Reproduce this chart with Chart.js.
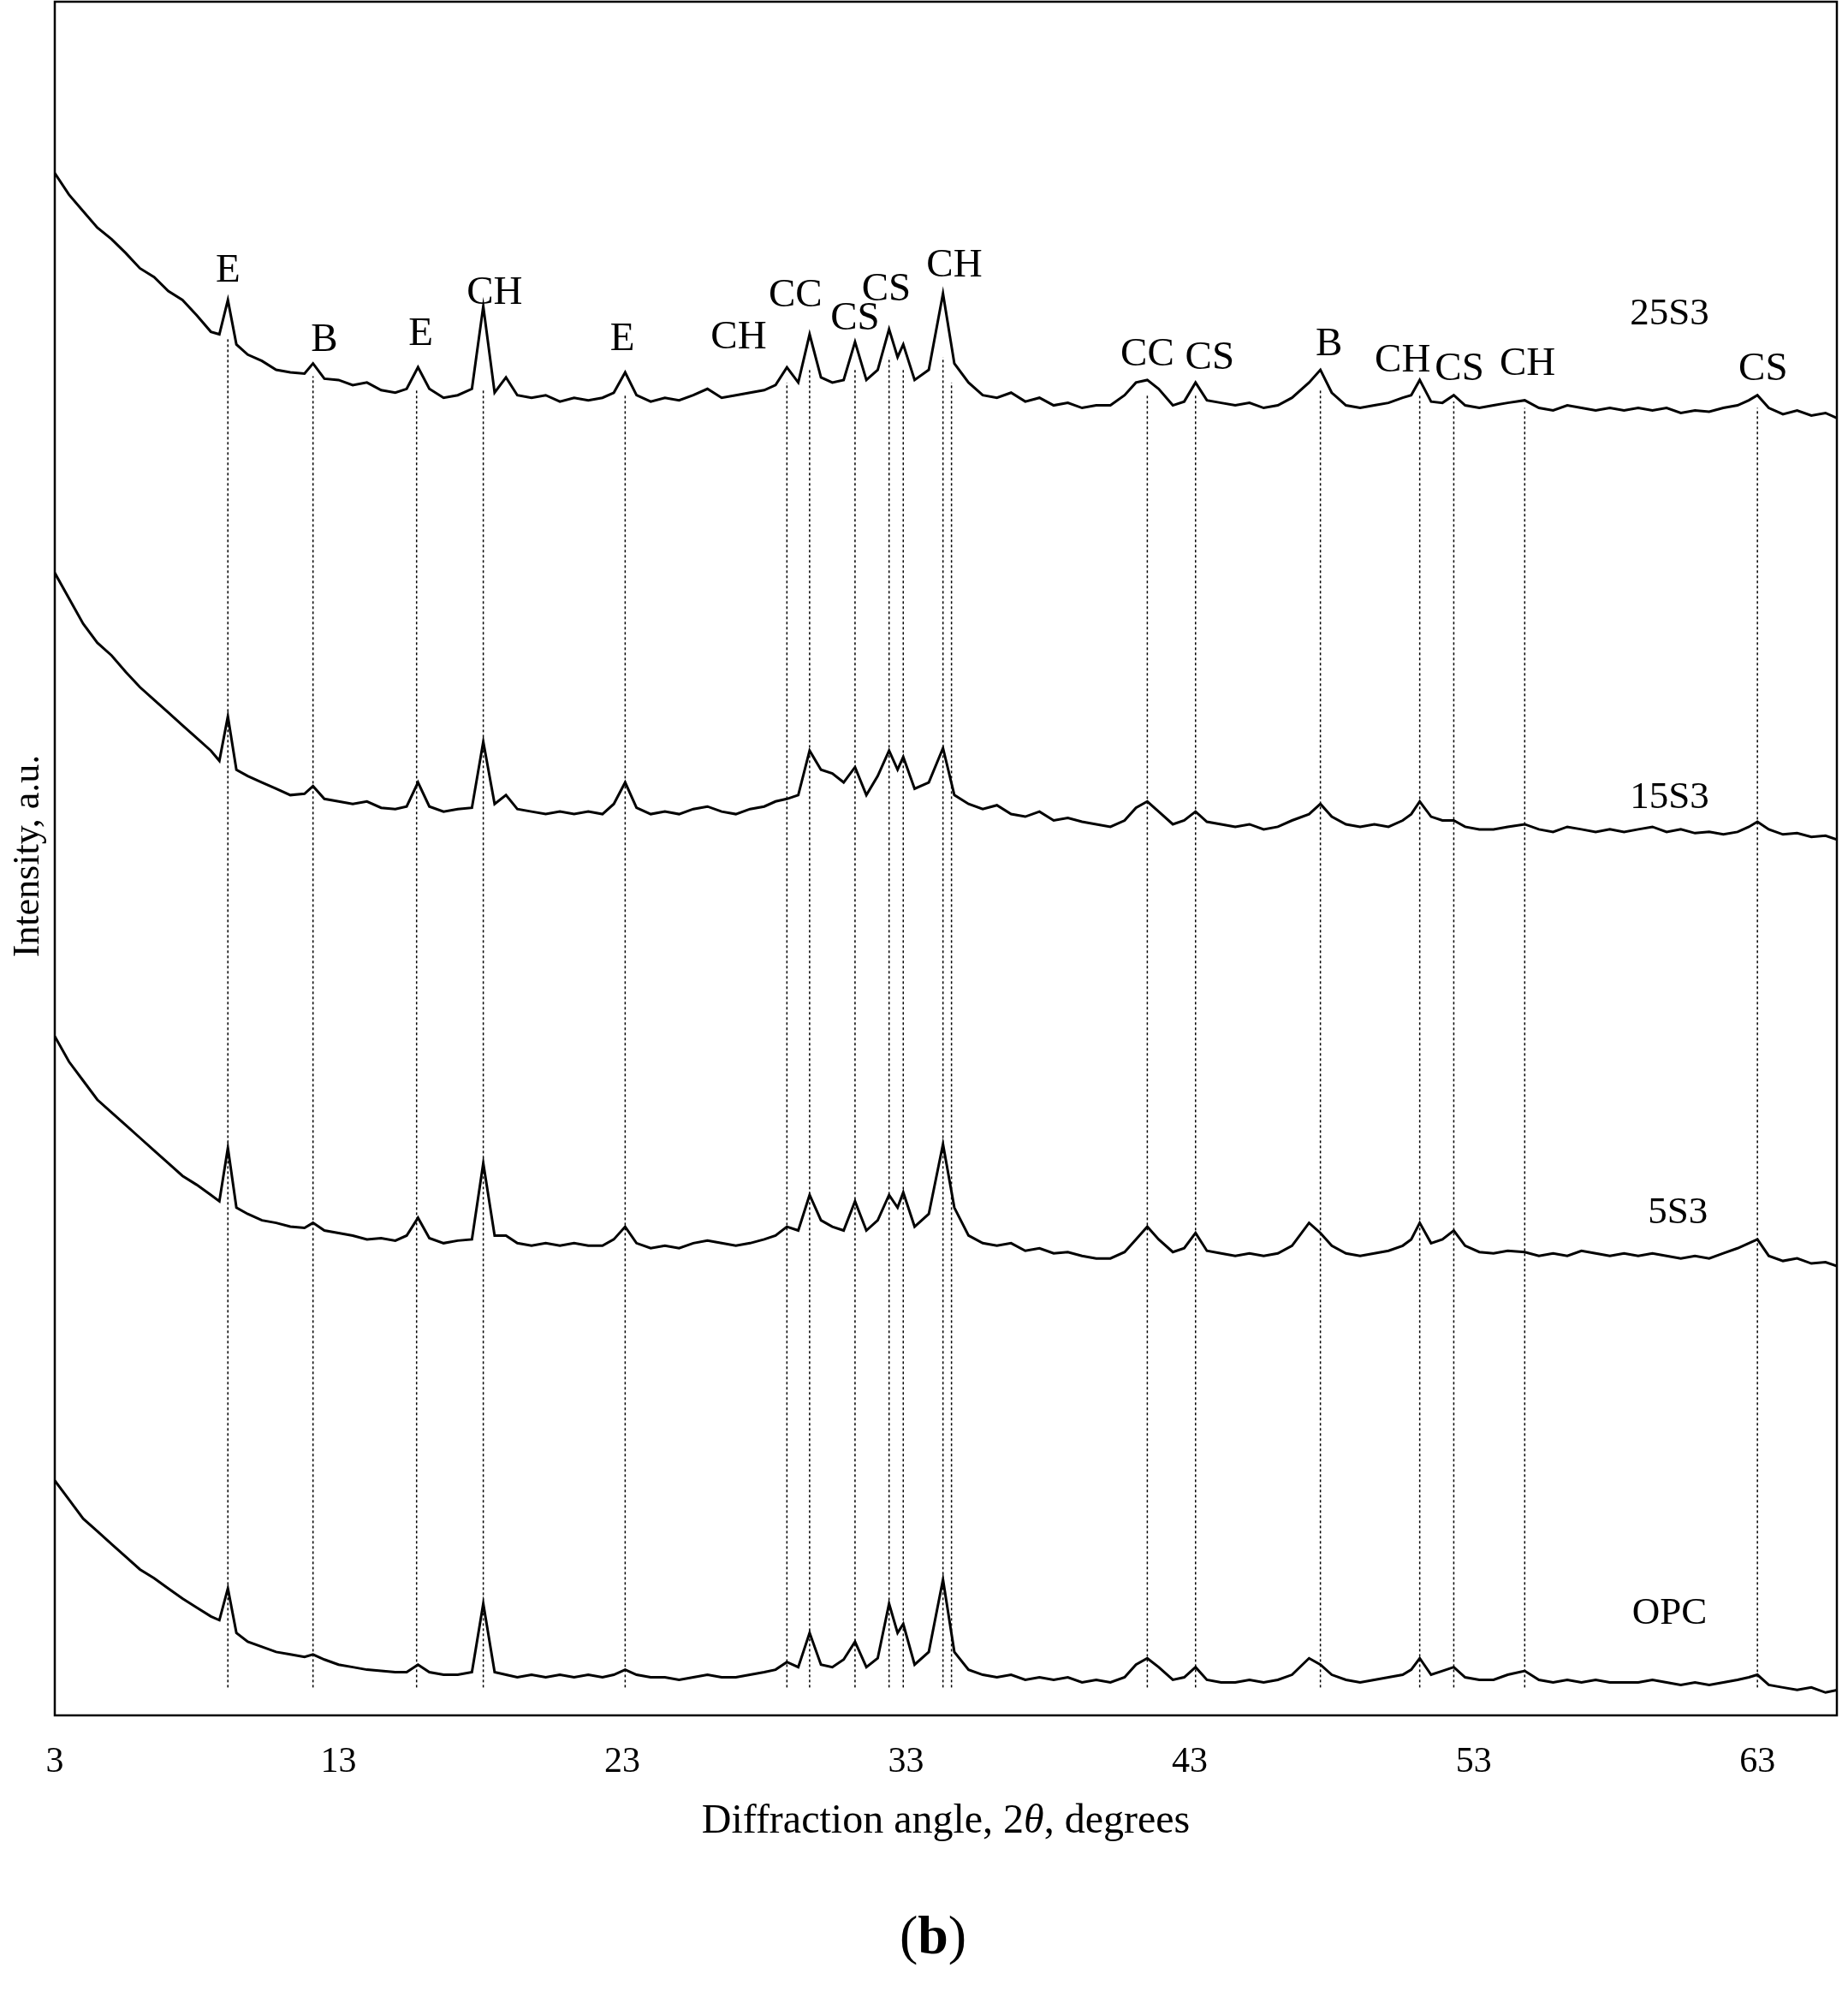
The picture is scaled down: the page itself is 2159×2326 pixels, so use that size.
<!DOCTYPE html>
<html><head><meta charset="utf-8">
<script src="https://cdn.jsdelivr.net/npm/chart.js@4"></script>
<style>html,body{margin:0;padding:0;background:#fff}#w{width:2159px;height:2326px}</style>
</head><body><div id="w"><canvas id="c" width="2159" height="2326"></canvas></div>
<script>
const angles=[3,3.5,4,4.5,5,5.5,6,6.5,7,7.5,8,8.5,
8.8,9.1,9.4,9.8,10.3,10.8,11.3,11.8,12.1,12.5,
13,13.5,14,14.5,15,15.4,15.8,16.2,16.7,17.2,
17.7,18.1,18.5,18.9,19.3,19.8,20.3,20.8,21.3,21.8,
22.3,22.7,23.1,23.5,24,24.5,25,25.5,26,26.5,
27,27.5,28,28.4,28.8,29.2,29.6,30,30.4,30.8,
31.2,31.6,32,32.4,32.7,32.9,33.3,33.8,34.3,34.7,
35.2,35.7,36.2,36.7,37.2,37.7,38.2,38.7,39.2,39.7,
40.2,40.7,41.1,41.5,41.9,42.4,42.8,43.2,43.6,44.1,
44.6,45.1,45.6,46.1,46.6,47.2,47.6,48,48.5,49,
49.5,50,50.5,50.8,51.1,51.5,51.9,52.3,52.7,53.2,
53.7,54.2,54.8,55.3,55.8,56.3,56.8,57.3,57.8,58.3,
58.8,59.3,59.8,60.3,60.8,61.3,61.8,62.3,62.7,63,
63.4,63.9,64.4,64.9,65.4,65.8];
const s25S3=[1215,1198,1185,1172,1163,1152,1140,1133,1122,1115,1103,1090,
1088,1115,1080,1072,1067,1060,1058,1057,1065,1053,
1052,1048,1050,1044,1042,1045,1062,1045,1038,1040,
1045,1110,1042,1054,1040,1038,1040,1035,1038,1036,
1038,1042,1058,1040,1035,1038,1036,1040,1045,1038,
1040,1042,1044,1048,1062,1050,1088,1054,1050,1052,
1082,1052,1060,1092,1070,1080,1052,1060,1120,1065,
1050,1040,1038,1042,1035,1038,1032,1034,1030,1032,
1032,1040,1050,1052,1045,1032,1035,1050,1036,1034,
1032,1034,1030,1032,1038,1050,1060,1042,1032,1030,
1032,1034,1038,1040,1052,1035,1034,1040,1032,1030,
1032,1034,1036,1030,1028,1032,1030,1028,1030,1028,
1030,1028,1030,1026,1028,1027,1030,1032,1036,1040,
1030,1025,1028,1024,1026,1022];
const s15S3=[900,880,860,845,835,822,810,800,790,780,770,760,
752,787,745,740,735,730,725,726,732,722,
720,718,720,715,714,716,735,716,712,714,
715,767,718,725,714,712,710,712,710,712,
710,718,735,715,710,712,710,714,716,712,
710,714,716,720,722,725,760,745,742,735,
747,725,740,760,745,755,730,735,762,725,
718,714,717,710,708,712,705,707,704,702,
700,705,715,720,712,702,705,712,704,702,
700,702,698,700,705,710,718,708,702,700,
702,700,705,710,720,708,705,705,700,698,
698,700,702,698,696,700,698,696,698,696,
698,700,696,698,695,696,694,696,700,704,
698,694,695,692,693,690];
const s5S3=[535,515,500,485,475,465,455,445,435,425,418,410,
405,447,400,395,390,388,385,384,388,382,
380,378,375,376,374,378,392,376,372,374,
375,435,378,378,372,370,372,370,372,370,
370,375,385,372,368,370,368,372,374,372,
370,372,375,378,385,382,410,390,385,382,
405,382,390,410,400,412,385,395,450,400,
378,372,370,372,366,368,364,365,362,360,
360,365,375,385,375,365,368,380,366,364,
362,364,362,364,370,388,380,370,364,362,
364,366,370,375,388,372,375,382,370,365,
364,366,365,362,364,362,366,364,362,364,
362,364,362,360,362,360,364,368,372,375,
362,358,360,356,357,354];
const sOPC=[185,170,155,145,135,125,115,108,100,92,85,78,
75,100,65,58,54,50,48,46,48,44,
40,38,36,35,34,34,40,34,32,32,
34,88,34,32,30,32,30,32,30,32,
30,32,36,32,30,30,28,30,32,30,
30,32,34,36,42,38,65,40,38,44,
58,38,45,88,65,72,40,50,107,50,
36,32,30,32,28,30,28,30,26,28,
26,30,40,45,38,28,30,38,28,26,
26,28,26,28,32,45,40,32,28,26,
28,30,32,36,45,32,35,38,30,28,
28,32,35,28,26,28,26,28,26,26,
26,28,26,24,26,24,26,28,30,32,
24,22,20,22,18,20];
const seriesNames=['25S3','15S3','5S3','OPC'];
const seriesLabelPos=[[59.9,1104],[59.9,723],[60.2,396],[59.9,80]];
const xTicks=[3,13,23,33,43,53,63];
const refLines=[[9.1,1085],[12.1,1055],[15.75,1045],[18.1,1045],[23.1,1040],[28.8,1050],[29.6,1060],[31.2,1060],[32.4,1070],[32.9,1060],[34.3,1070],[34.6,1050],[41.5,1040],[43.2,1040],[47.6,1045],[51.1,1040],[52.3,1035],[54.8,1030],[63,1030]];
const refBottom=22;
const phaseLabels=[['E',9.1,1138],['B',12.5,1083],['E',15.9,1088],['CH',18.5,1120],['E',23,1084],['CH',27.1,1085],['CC',29.1,1118],['CS',31.2,1100],['CS',32.3,1123],['CH',34.7,1142],['CC',41.5,1072],['CS',43.7,1069],['B',47.9,1080],['CH',50.5,1067],['CS',52.5,1060],['CH',54.9,1064],['CS',63.2,1060]];

const F='"Liberation Serif", "DejaVu Serif", serif';
const mk=(arr)=>angles.map((a,i)=>({x:a,y:arr[i]}));
const overlay={id:'overlay',
 beforeDatasetsDraw(ch){const {ctx,scales:{x,y}}=ch;ctx.save();ctx.strokeStyle='#000';ctx.lineWidth=1.5;ctx.setLineDash([3,3]);
  refLines.forEach(([a,t])=>{const px=x.getPixelForValue(a);ctx.beginPath();ctx.moveTo(px,y.getPixelForValue(refBottom));ctx.lineTo(px,y.getPixelForValue(t));ctx.stroke();});ctx.restore();},
 afterDraw(ch){const {ctx,chartArea:ca,scales:{x,y}}=ch;ctx.save();
  ctx.strokeStyle='#000';ctx.lineWidth=2.5;ctx.strokeRect(ca.left,ca.top,ca.right-ca.left,ca.bottom-ca.top);
  ctx.fillStyle='#000';ctx.textAlign='center';ctx.textBaseline='middle';
  ctx.font='47px '+F;
  phaseLabels.forEach(([t,a,v])=>ctx.fillText(t,x.getPixelForValue(a),y.getPixelForValue(v)));
  ctx.font='45px '+F;
  seriesNames.forEach((n,i)=>ctx.fillText(n,x.getPixelForValue(seriesLabelPos[i][0]),y.getPixelForValue(seriesLabelPos[i][1])));
  const a='Diffraction angle, 2',b='θ',c=', degrees';
  ctx.font='48px '+F;const wa=ctx.measureText(a).width,wc=ctx.measureText(c).width;
  ctx.font='italic 48px '+F;const wb=ctx.measureText(b).width;
  const sx=1105-(wa+wb+wc)/2;
  ctx.textAlign='left';ctx.font='48px '+F;ctx.fillText(a,sx,2128);ctx.font='italic 48px '+F;ctx.fillText(b,sx+wa,2128);ctx.font='48px '+F;ctx.fillText(c,sx+wa+wb,2128);
  ctx.save();ctx.translate(33,1000);ctx.rotate(-Math.PI/2);ctx.textAlign='center';ctx.font='44px '+F;ctx.fillText('Intensity, a.u.',0,0);ctx.restore();
  ctx.font='64px '+F;const wp=ctx.measureText('(').width;ctx.font='bold 64px '+F;const wbb=ctx.measureText('b').width;
  let bx=1090-(2*wp+wbb)/2;ctx.textAlign='left';
  ctx.font='64px '+F;ctx.fillText('(',bx,2265);ctx.font='bold 64px '+F;ctx.fillText('b',bx+wp,2265);ctx.font='64px '+F;ctx.fillText(')',bx+wp+wbb,2265);
  ctx.restore();
 }};
new Chart(document.getElementById('c'),{type:'line',
 data:{datasets:[s25S3,s15S3,s5S3,sOPC].map((d,i)=>({label:seriesNames[i],data:mk(d),borderColor:'#000',borderWidth:3,pointRadius:0,tension:0,fill:false}))},
 options:{responsive:false,animation:false,devicePixelRatio:1,
  layout:{padding:{top:2,right:13,left:0,bottom:0}},
  plugins:{legend:{display:false},tooltip:{enabled:false}},
  scales:{
   x:{type:'linear',min:3,max:65.8,
    afterBuildTicks:(s)=>{s.ticks=xTicks.map(v=>({value:v}));},
    afterFit:(s)=>{s.height=322;},
    grid:{display:false,drawTicks:true,tickLength:8,tickColor:'#000'},border:{display:false},
    ticks:{color:'#000',font:{family:F,size:42},padding:22,maxRotation:0}},
   y:{min:0,max:1350,afterFit:(s)=>{s.width=64;},grid:{display:false},border:{display:false},ticks:{display:false}}
  }},
 plugins:[overlay]
});
</script></body></html>
